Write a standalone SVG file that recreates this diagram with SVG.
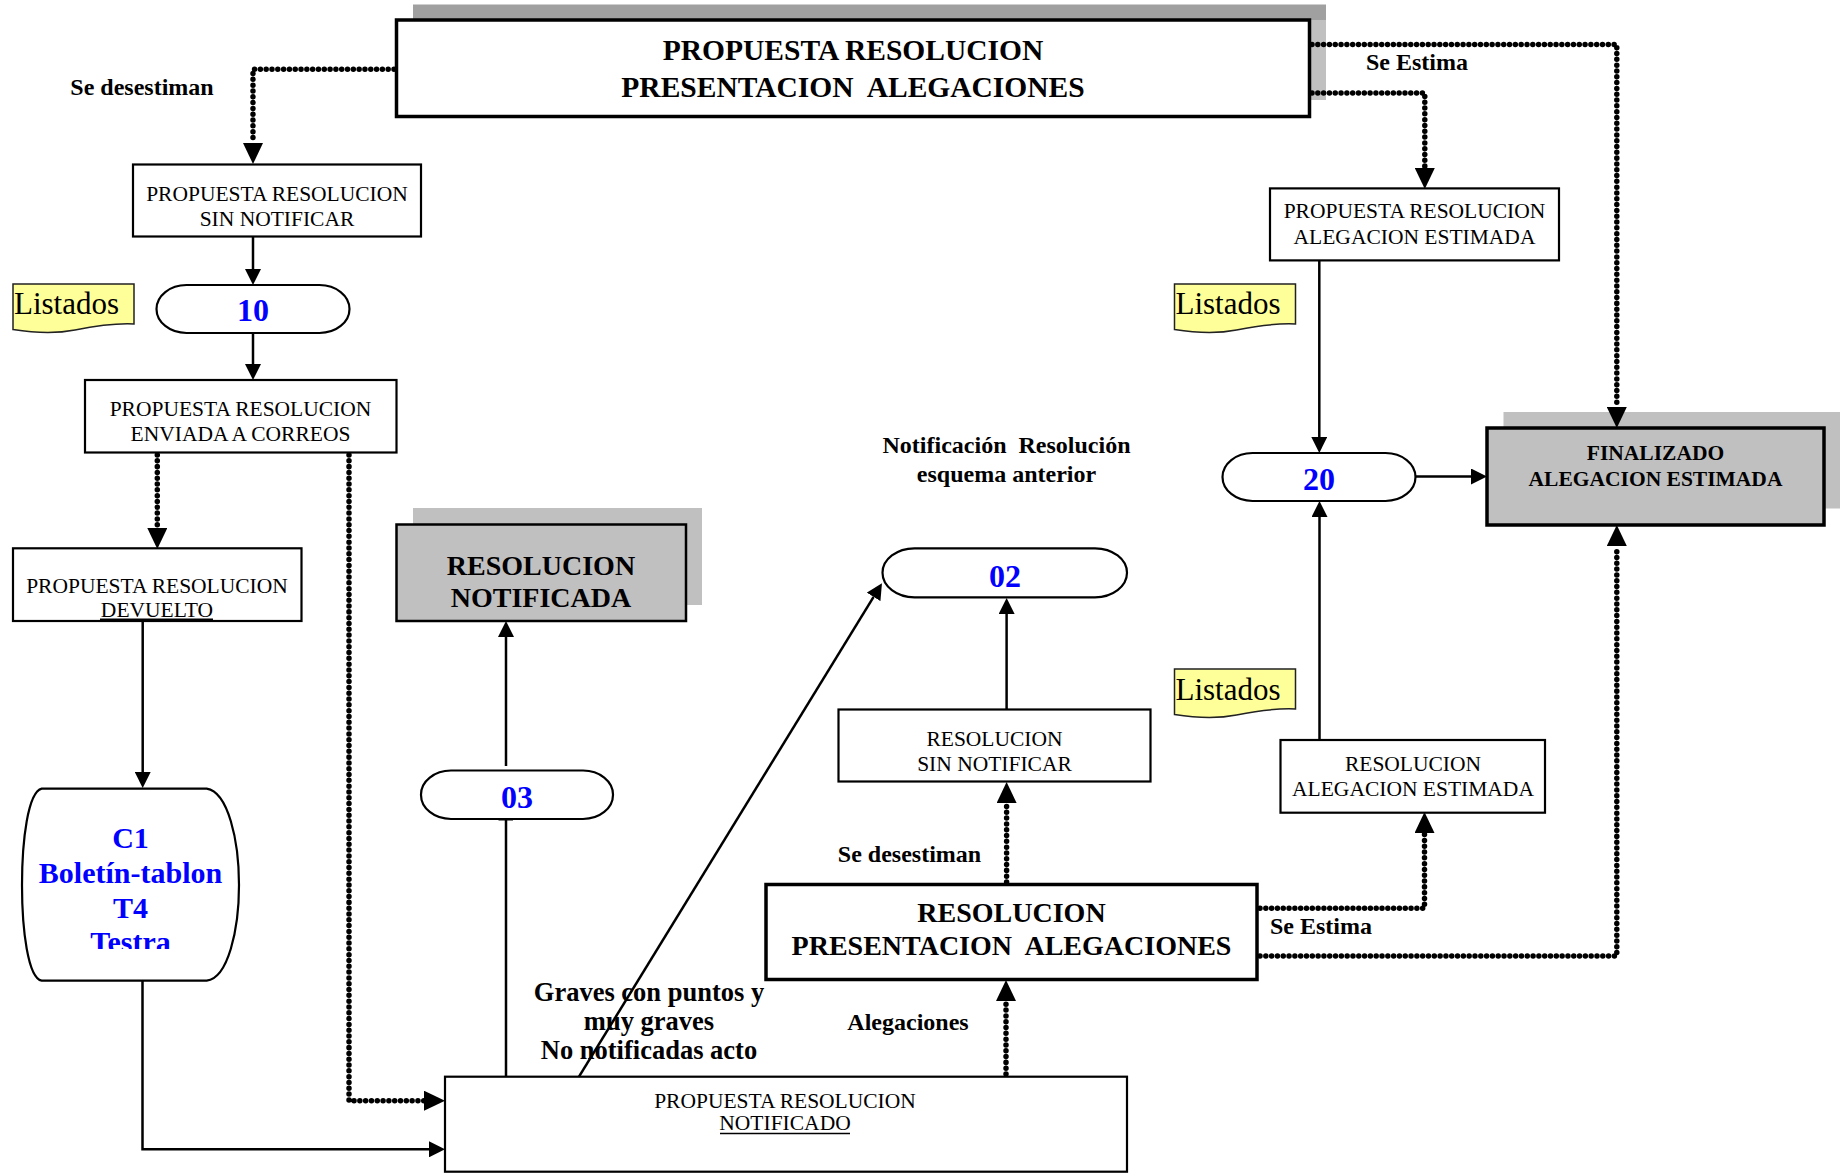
<svg xmlns="http://www.w3.org/2000/svg" width="1845" height="1173" viewBox="0 0 1845 1173">
<style>
.bx{fill:#fff;stroke:#000;stroke-width:2.2}
.bb{fill:#fff;stroke:#000;stroke-width:3.5}
.gr{fill:#c0c0c0}
.cap{fill:#fff;stroke:#000;stroke-width:2.2}
.note{fill:#ffff99;stroke:#222;stroke-width:1.5}
text{font-family:"Liberation Serif","Times New Roman",serif;fill:#000}
.sm{font-size:21.5px;text-anchor:middle}
.bd{font-weight:bold;text-anchor:middle}
.lb{font-size:24px;font-weight:bold;text-anchor:middle}
.num{font-size:32px;font-weight:bold;fill:#0000ff;text-anchor:middle}
.c1{font-size:30px;font-weight:bold;fill:#0000ff;text-anchor:middle}
.lst{font-size:31px}
.dot{fill:none;stroke:#000;stroke-width:5.5;stroke-dasharray:0.01 5.8;stroke-linecap:round}
.ln{fill:none;stroke:#000;stroke-width:2.5}
</style>
<defs>
<marker id="ah" markerUnits="userSpaceOnUse" markerWidth="21" markerHeight="20" refX="0" refY="10" orient="auto"><path d="M0,0 L21,10 L0,20 z" fill="#000"/></marker>
<marker id="as" markerUnits="userSpaceOnUse" markerWidth="16" markerHeight="16" refX="0" refY="8" orient="auto"><path d="M0,0 L16,8 L0,16 z" fill="#000"/></marker>
<clipPath id="c1clip"><rect x="20" y="786" width="222" height="163"/></clipPath>
<path id="notepath" d="M0,0 H121 V40 C100,39 82,42 62,46 C42,50 22,49 0,45.5 Z"/>
</defs>

<g id="n-top">
<rect x="413" y="4.5" width="913" height="16" fill="#a0a0a0"/>
<rect x="1309" y="20" width="17" height="80" class="gr"/>
<rect x="396.5" y="20" width="913" height="96.5" class="bb"/>
<text class="bd" font-size="29.5px" x="853" y="60">PROPUESTA RESOLUCION</text>
<text class="bd" font-size="29.5px" x="853" y="97" xml:space="preserve">PRESENTACION  ALEGACIONES</text>
</g>

<g id="n-prop-sin-notificar">
<rect x="133" y="164.5" width="288" height="72" class="bx"/>
<text class="sm" x="277" y="200.5">PROPUESTA RESOLUCION</text>
<text class="sm" x="277" y="225.5">SIN NOTIFICAR</text>
</g>

<g id="n-listados-1">
<use href="#notepath" x="13" y="284" class="note"/>
<text class="lst" x="14" y="313.5">Listados</text>
</g>

<g id="n-10">
<rect x="156.5" y="285" width="193" height="48" rx="30" ry="24" class="cap"/>
<text class="num" x="253" y="321">10</text>
</g>

<g id="n-enviada">
<rect x="85" y="380" width="311.5" height="72.5" class="bx"/>
<text class="sm" x="240.5" y="416">PROPUESTA RESOLUCION</text>
<text class="sm" x="240.5" y="441">ENVIADA A CORREOS</text>
</g>

<g id="n-devuelto">
<rect x="13" y="548.3" width="288.5" height="72.7" class="bx"/>
<text class="sm" x="157" y="592.5">PROPUESTA RESOLUCION</text>
<text class="sm" x="157" y="617">DEVUELTO</text>
<line x1="100" y1="619.3" x2="213" y2="619.3" stroke="#000" stroke-width="1.5"/>
</g>

<g id="n-c1">
<path d="M41.7,788.6 H206.7 C228,792 239,840 239,885 C239,930 228,978 206.7,980.7 H41.7 C28,978 22,930 22,885 C22,840 28,792 41.7,788.6 Z" class="cap"/>
<g clip-path="url(#c1clip)">
<text class="c1" x="130.5" y="848">C1</text>
<text class="c1" x="130.5" y="883">Boletín-tablon</text>
<text class="c1" x="130.5" y="917.5">T4</text>
<text class="c1" x="130.5" y="952">Testra</text>
</g>
</g>

<g id="n-res-notificada">
<rect x="413" y="508" width="289" height="97" class="gr"/>
<rect x="396.5" y="524.5" width="289.5" height="96.5" class="gr" stroke="#000" stroke-width="2.5"/>
<text class="bd" font-size="28px" x="541" y="575">RESOLUCION</text>
<text class="bd" font-size="28px" x="541" y="607">NOTIFICADA</text>
</g>

<g id="n-03">
<rect x="421" y="770.5" width="192" height="48.5" rx="30" ry="24" class="cap"/>
<text class="num" x="517" y="808">03</text>
</g>

<g id="n-notificado">
<rect x="445" y="1076.7" width="682" height="95" class="bx"/>
<text class="sm" x="785" y="1108">PROPUESTA RESOLUCION</text>
<text class="sm" x="785" y="1130">NOTIFICADO</text>
<line x1="720" y1="1133.5" x2="850" y2="1133.5" stroke="#000" stroke-width="1.5"/>
</g>

<g id="n-02">
<rect x="882.5" y="548.3" width="244.5" height="49" rx="32" ry="24.5" class="cap"/>
<text class="num" x="1005" y="586.5">02</text>
</g>

<g id="n-res-sin-notificar">
<rect x="838.5" y="709.5" width="312" height="72" class="bx"/>
<text class="sm" x="994.5" y="745.5">RESOLUCION</text>
<text class="sm" x="994.5" y="770.5">SIN NOTIFICAR</text>
</g>

<g id="n-res-presentacion">
<rect x="766" y="884.5" width="491" height="95" class="bb"/>
<text class="bd" font-size="28px" x="1011.5" y="921.5">RESOLUCION</text>
<text class="bd" font-size="28px" x="1011.5" y="955" xml:space="preserve">PRESENTACION  ALEGACIONES</text>
</g>

<g id="n-prop-aleg-estimada">
<rect x="1270" y="188.4" width="289" height="72" class="bx"/>
<text class="sm" x="1414.5" y="217.5">PROPUESTA RESOLUCION</text>
<text class="sm" x="1414.5" y="244">ALEGACION ESTIMADA</text>
</g>

<g id="n-listados-2">
<use href="#notepath" x="1174.5" y="284" class="note"/>
<text class="lst" x="1175.5" y="314">Listados</text>
</g>

<g id="n-20">
<rect x="1222.5" y="453" width="193" height="48" rx="30" ry="24" class="cap"/>
<text class="num" x="1319" y="489.5">20</text>
</g>

<g id="n-finalizado">
<rect x="1503.5" y="412" width="336.5" height="96.5" class="gr"/>
<rect x="1487" y="428" width="337" height="97" class="gr" stroke="#000" stroke-width="3.5"/>
<text class="bd" font-size="21.5px" x="1655.5" y="459.5">FINALIZADO</text>
<text class="bd" font-size="21.5px" x="1655.5" y="486">ALEGACION ESTIMADA</text>
</g>

<g id="n-listados-3">
<use href="#notepath" x="1174.5" y="669" class="note"/>
<text class="lst" x="1175.5" y="699.5">Listados</text>
</g>

<g id="n-res-aleg-estimada">
<rect x="1280.5" y="740" width="264.5" height="72.7" class="bx"/>
<text class="sm" x="1413" y="771">RESOLUCION</text>
<text class="sm" x="1413" y="795.5">ALEGACION ESTIMADA</text>
</g>

<g id="connectors">
<path class="dot" d="M394,69.3 H253 V143" marker-end="url(#ah)"/>
<path class="ln" d="M253,236.5 V269" marker-end="url(#as)"/>
<path class="ln" d="M253,333 V364" marker-end="url(#as)"/>
<path class="dot" d="M157.3,455 V528" marker-end="url(#ah)"/>
<path class="dot" d="M349,455 V1100.7 H424" marker-end="url(#ah)"/>
<path class="ln" d="M142.7,621 V772" marker-end="url(#as)"/>
<path class="ln" d="M142.5,980.7 V1149.3 H429" marker-end="url(#as)"/>
<path class="ln" d="M506,1076.7 V819"/>
<line x1="498.5" y1="819.5" x2="513" y2="819.5" stroke="#000" stroke-width="2"/>
<path class="ln" d="M506,766 V637" marker-end="url(#as)"/>
<path class="ln" d="M579,1076.7 L873.6,596.9" marker-end="url(#as)"/>
<path class="dot" d="M1006,1074 V1001" marker-end="url(#ah)"/>
<path class="dot" d="M1006.6,882 V803" marker-end="url(#ah)"/>
<path class="ln" d="M1006.6,709.5 V614" marker-end="url(#as)"/>
<path class="dot" d="M1260,908.3 H1424.5 V833" marker-end="url(#ah)"/>
<path class="dot" d="M1260,956 H1616.8 V546" marker-end="url(#ah)"/>
<path class="ln" d="M1319.5,740 V517" marker-end="url(#as)"/>
<path class="ln" d="M1319.3,260.7 V437" marker-end="url(#as)"/>
<path class="ln" d="M1415.5,476.5 H1471" marker-end="url(#as)"/>
<path class="dot" d="M1312,44.6 H1616.8 V407" marker-end="url(#ah)"/>
<path class="dot" d="M1312,93 H1424.8 V168" marker-end="url(#ah)"/>
</g>

<g id="labels">
<text class="lb" x="142" y="95">Se desestiman</text>
<text class="lb" x="1417" y="70">Se Estima</text>
<text class="lb" x="1006.5" y="453" xml:space="preserve">Notificación  Resolución</text>
<text class="lb" x="1006.5" y="481.5">esquema anterior</text>
<text class="lb" x="909.5" y="862">Se desestiman</text>
<text class="lb" x="1321" y="934">Se Estima</text>
<text class="lb" x="908" y="1030">Alegaciones</text>
<text class="bd" font-size="26.5px" x="649" y="1001">Graves con puntos y</text>
<text class="bd" font-size="26.5px" x="649" y="1030">muy graves</text>
<text class="bd" font-size="26.5px" x="649" y="1059">No notificadas acto</text>
</g>
</svg>
